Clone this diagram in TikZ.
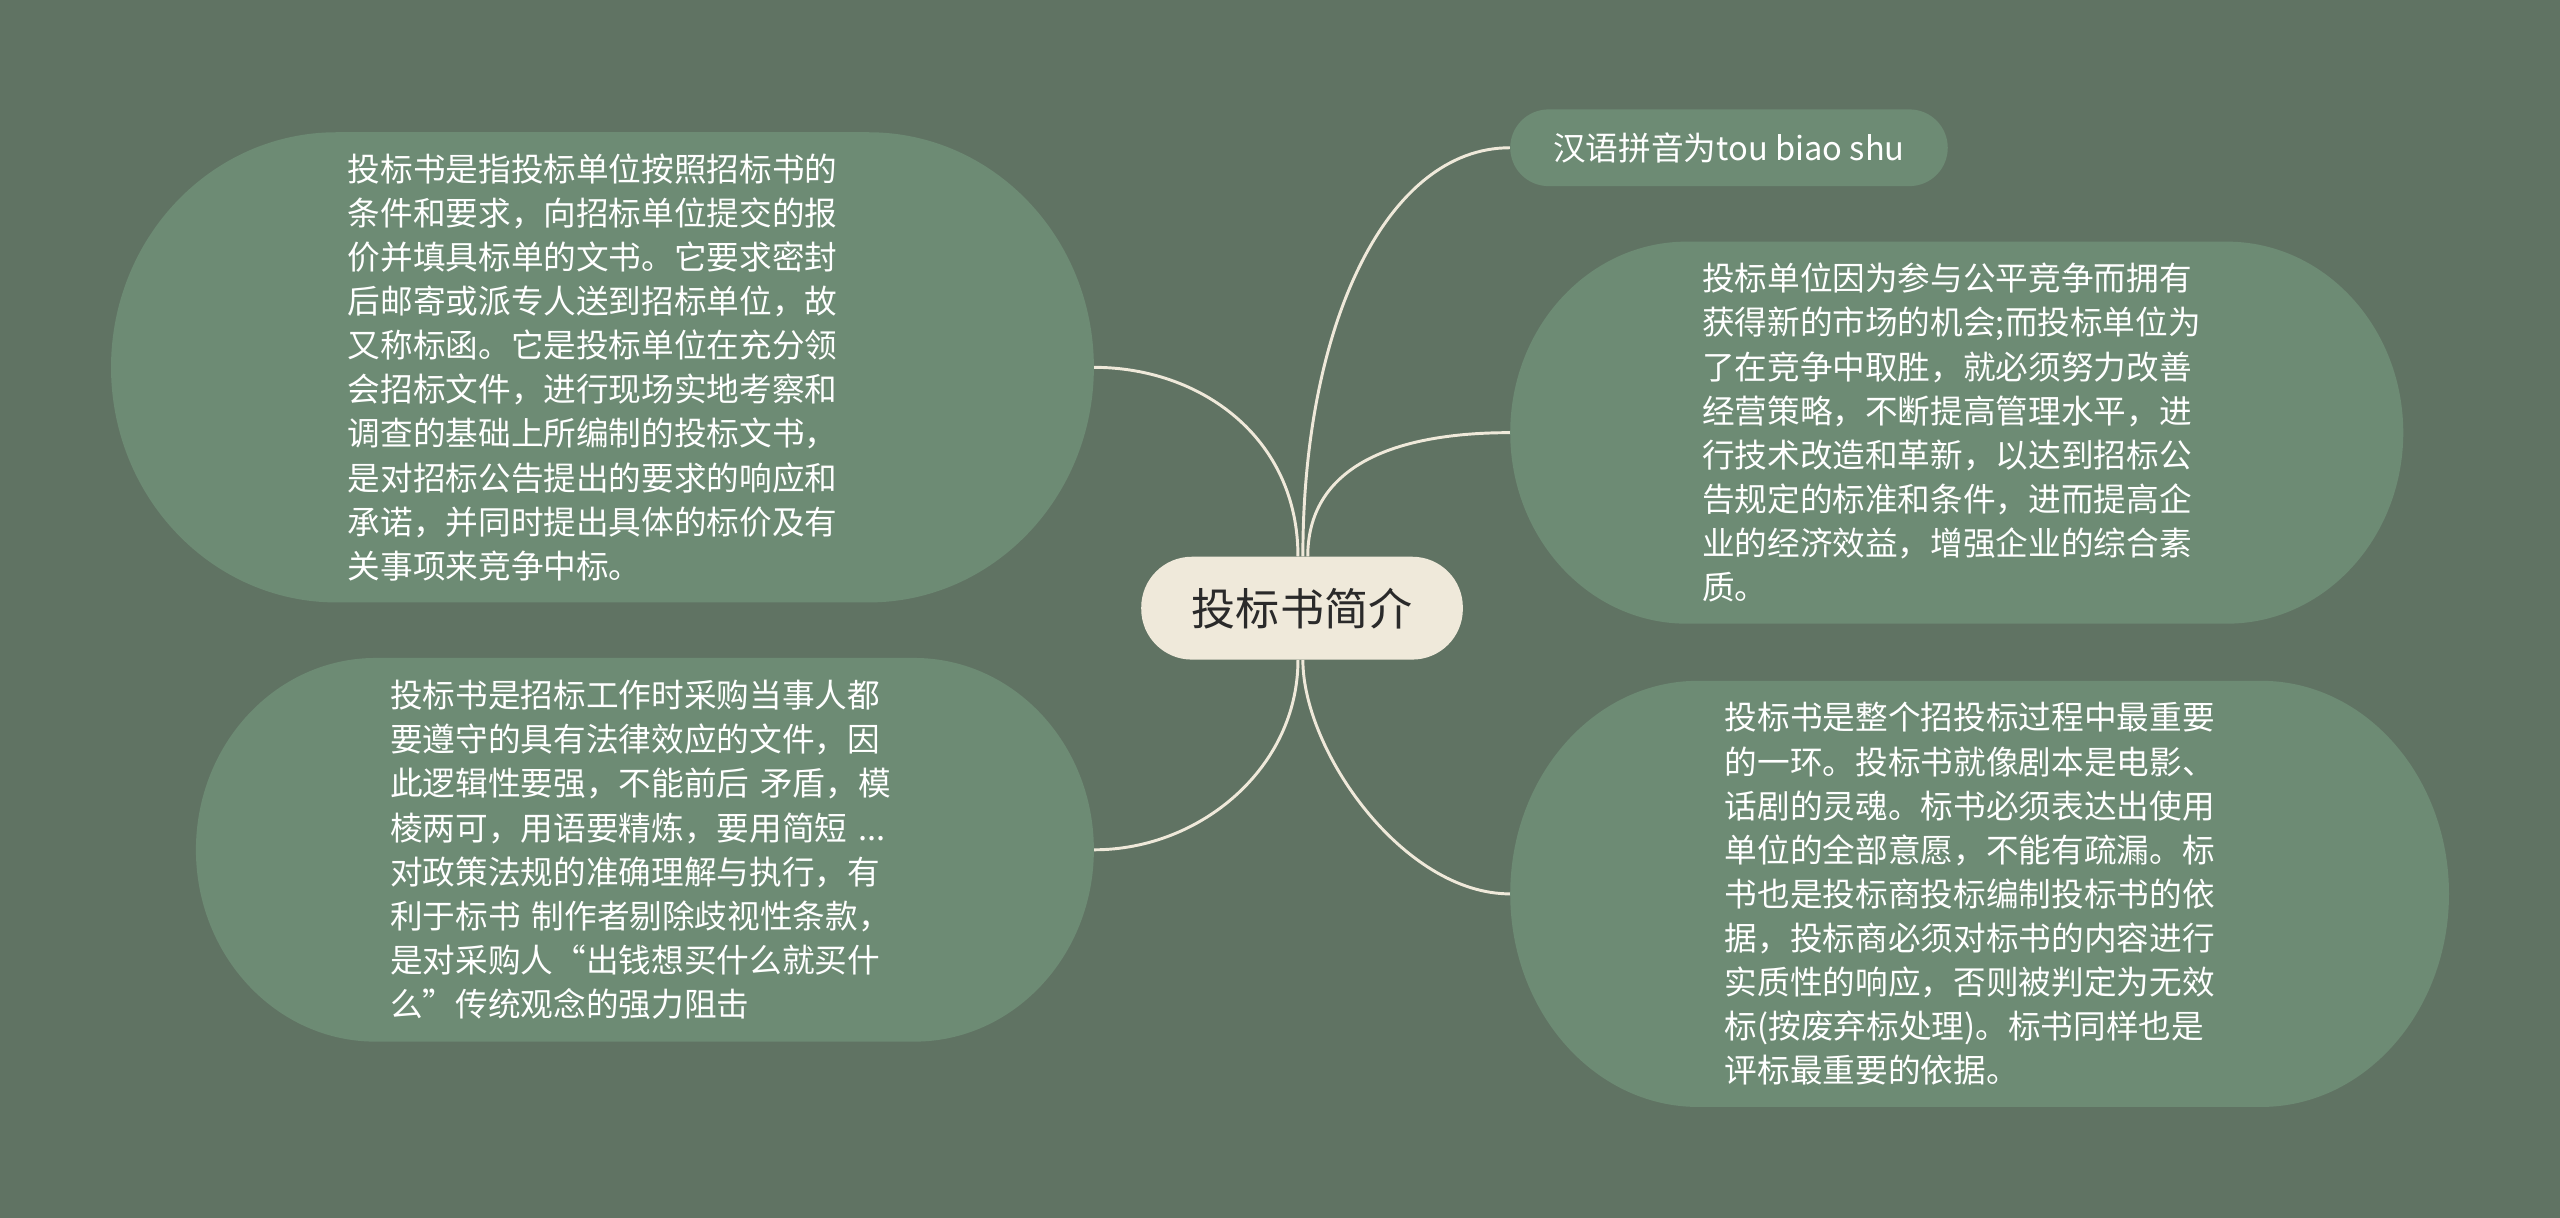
\documentclass[tikz,border=0pt]{standalone}
\usepackage{fontspec}
\setmainfont{Noto Sans CJK SC}
\definecolor{bgc}{HTML}{607363}
\definecolor{leaf}{HTML}{6D8B74}
\definecolor{cream}{HTML}{EFE9DA}
\definecolor{ink}{HTML}{2A2A2A}
\pgfdeclarelayer{bg}
\pgfdeclarelayer{wires}
\pgfsetlayers{bg,wires,main}
% cx, cy, w, h, rx : rounded box with elliptical ends
\newcommand\leafblob[5]{%
  \fill[leaf] (#1-#3/2+#5,#2-#4/2) -- (#1+#3/2-#5,#2-#4/2)
    .. controls (#1+#3/2-#5+0.5523*#5,#2-#4/2) and (#1+#3/2,#2-0.5523*#4/2) .. (#1+#3/2,#2)
    .. controls (#1+#3/2,#2+0.5523*#4/2) and (#1+#3/2-#5+0.5523*#5,#2+#4/2) .. (#1+#3/2-#5,#2+#4/2)
    -- (#1-#3/2+#5,#2+#4/2)
    .. controls (#1-#3/2+#5-0.5523*#5,#2+#4/2) and (#1-#3/2,#2+0.5523*#4/2) .. (#1-#3/2,#2)
    .. controls (#1-#3/2,#2-0.5523*#4/2) and (#1-#3/2+#5-0.5523*#5,#2-#4/2) .. (#1-#3/2+#5,#2-#4/2)
    -- cycle;}
\tikzset{
  root/.style={fill=cream, rounded corners=31pt, minimum width=197pt, minimum height=63pt,
    inner sep=0pt, text=ink, font=\fontsize{27pt}{32pt}\selectfont},
  topic/.style={inner sep=0pt, text=white, font=\fontsize{20pt}{27pt}\selectfont},
  para/.style={text width=312pt, align=left},
  wire/.style={draw=cream, line width=1.8pt},
}
\begin{document}
\begin{tikzpicture}[x=1pt,y=-1pt]
\useasboundingbox (0,0) rectangle (1568,746);
\begin{pgfonlayer}{bg}
\fill[bgc] (0,0) rectangle (1568,746);
\end{pgfonlayer}

\leafblob{369}{225}{602}{288}{138}
\leafblob{395}{520.5}{550}{235}{110}
\leafblob{1059}{90.5}{268}{47}{23.5}
\leafblob{1198.5}{265}{547}{234}{108}
\leafblob{1212.5}{547.5}{575}{261}{115}

\node[root] (ctr) at (797.5,372.5) {投标书简介};

\node[topic, para, minimum width=602pt, minimum height=288pt] (a) at (369,225) {投标书是指投标单位按照招标书的\\条件和要求，向招标单位提交的报\\价并填具标单的文书。它要求密封\\后邮寄或派专人送到招标单位，故\\又称标函。它是投标单位在充分领\\会招标文件，进行现场实地考察和\\调查的基础上所编制的投标文书，\\是对招标公告提出的要求的响应和\\承诺，并同时提出具体的标价及有\\关事项来竞争中标。};

\node[topic, para, minimum width=550pt, minimum height=235pt] (b) at (395,520.5) {投标书是招标工作时采购当事人都\\要遵守的具有法律效应的文件，因\\此逻辑性要强，不能前后 矛盾，模\\棱两可，用语要精炼，要用简短 ...\\对政策法规的准确理解与执行，有\\利于标书 制作者剔除歧视性条款，\\是对采购人“出钱想买什么就买什\\么”传统观念的强力阻击};

\node[topic, minimum width=268pt, minimum height=47pt] (c) at (1059,90.5) {汉语拼音为tou biao shu};

\node[topic, para, minimum width=547pt, minimum height=234pt] (d) at (1198.5,265) {投标单位因为参与公平竞争而拥有\\获得新的市场的机会;而投标单位为\\了在竞争中取胜，就必须努力改善\\经营策略，不断提高管理水平，进\\行技术改造和革新，以达到招标公\\告规定的标准和条件，进而提高企\\业的经济效益，增强企业的综合素\\质。};

\node[topic, para, minimum width=575pt, minimum height=261pt] (e) at (1212.5,547.5) {投标书是整个招投标过程中最重要\\的一环。投标书就像剧本是电影、\\话剧的灵魂。标书必须表达出使用\\单位的全部意愿，不能有疏漏。标\\书也是投标商投标编制投标书的依\\据，投标商必须对标书的内容进行\\实质性的响应，否则被判定为无效\\标(按废弃标处理)。标书同样也是\\评标最重要的依据。};

\begin{pgfonlayer}{wires}
\draw[wire] ([xshift=-2.5pt]ctr.north) .. controls +(0,-73) and +(65,0) .. (a.east);
\draw[wire] ([xshift=0.5pt]ctr.north) .. controls +(0,-143) and +(-75,0) .. (c.west);
\draw[wire] ([xshift=3.5pt]ctr.north) .. controls +(0,-53) and +(-75,0) .. (d.west);
\draw[wire] ([xshift=-2.5pt]ctr.south) .. controls +(0,66) and +(65,0) .. (b.east);
\draw[wire] ([xshift=0.5pt]ctr.south) .. controls +(0,56) and +(-65,0) .. (e.west);
\end{pgfonlayer}
\end{tikzpicture}
\end{document}
